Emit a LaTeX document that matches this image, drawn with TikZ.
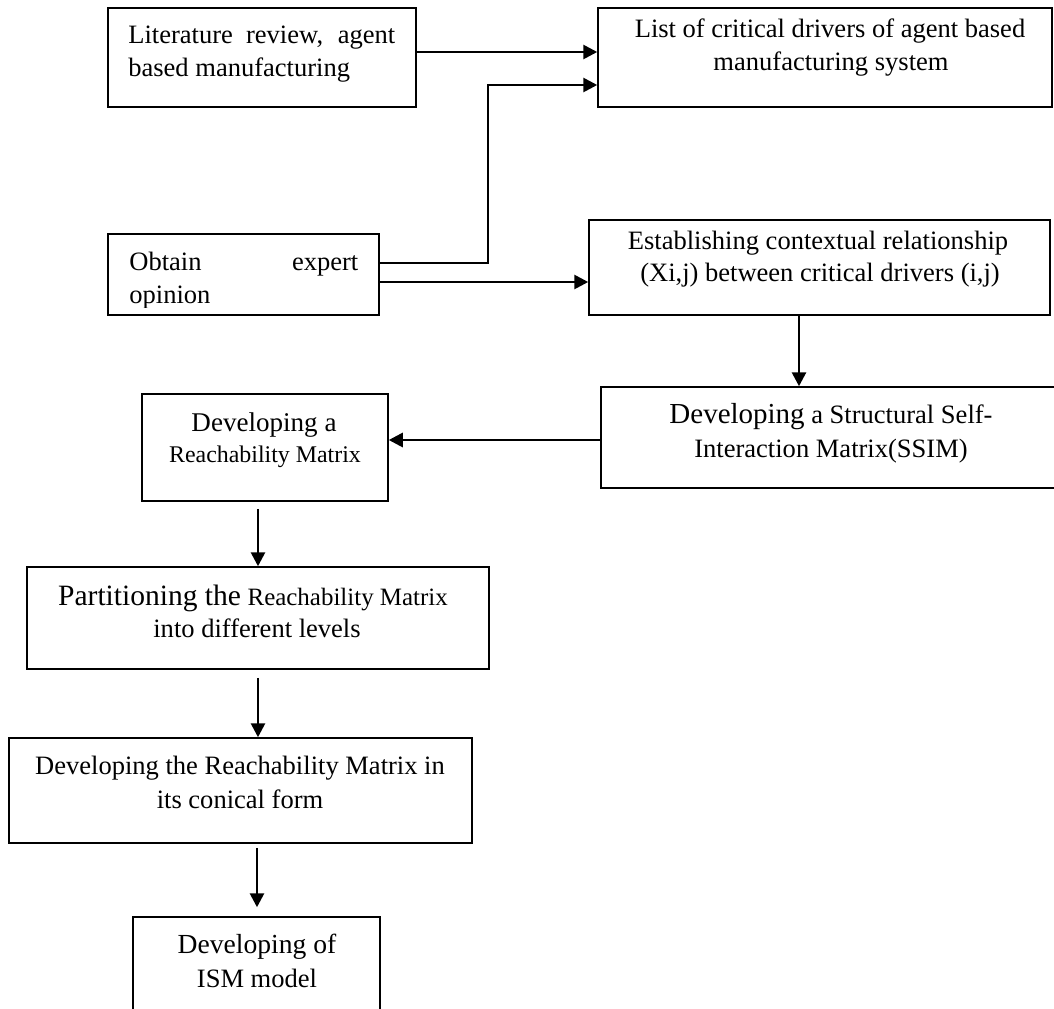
\documentclass[tikz,border=0pt]{standalone}
\usepackage{fontspec}
\setmainfont{Liberation Serif}
\usetikzlibrary{arrows.meta,fit}

\newcommand{\fs}[1]{\fontsize{#1}{#1}\selectfont}

\tikzset{
  box/.style={draw, line width=0.03cm, inner sep=0pt, fill=none},
  txt/.style={inner sep=0pt, anchor=base, font=\fs{15.1}},
  txtl/.style={inner sep=0pt, anchor=base west, font=\fs{15.1}},
  arr/.style={line width=0.055cm, -{Triangle[length=0.28cm, width=0.28cm]}},
  link/.style={line width=0.055cm}
}

\begin{document}
\begin{tikzpicture}[x=0.02cm, y=-0.02cm]
  \useasboundingbox (0,0) rectangle (1054,1008);
  \clip (0,0) rectangle (1054,1008);

  % boxes
  \node[box, fit={(108,8) (416,107)}] (lit) {};
  \node[box, fit={(598,8) (1052,107)}] (list) {};
  \node[box, fit={(108,234) (379,315)}] (expert) {};
  \node[box, fit={(589,220) (1050,315)}] (ctx) {};
  \node[box, fit={(601,387) (1070,488)}] (ssim) {};
  \node[box, fit={(142,394) (388,501)}] (reach) {};
  \node[box, fit={(27,567) (489,669)}] (part) {};
  \node[box, fit={(9,738) (472,843)}] (canon) {};
  \node[box, fit={(133,917) (380,1030)}] (ism) {};

  % texts
  \node[txtl] (litA) at (128,43) {\makebox[5.34cm][s]{Literature review, agent}};
  \node[txtl] (litB) at (128,76) {based manufacturing};

  \node[txt] (listA) at (830,37) {List of critical drivers of agent based};
  \node[txt] (listB) at (831,70) {manufacturing system};

  \begin{scope}
    \clip (100,225) rectangle (400,307);
    \node[txtl] (expA) at (129,270) {\makebox[4.58cm][s]{Obtain expert}};
    \node[txtl] (expB) at (129,303) {opinion};
  \end{scope}

  \node[txt] (ctxA) at (818,249) {Establishing contextual relationship};
  \node[txt] (ctxB) at (820,281) {(Xi,j) between critical drivers (i,j)};

  \node[txt] (ssimA) at (831,423) {{\fs{16.5}Developing} a Structural Self-};
  \node[txt] (ssimB) at (831,457) {Interaction Matrix(SSIM)};

  \node[txt, font=\fs{15.4}] (reachA) at (264,431) {Developing a};
  \node[txt, font=\fs{13.6}] (reachB) at (265,462) {Reachability Matrix};

  \node[txt] (partA) at (253,605) {{\fs{16.8}Partitioning the} {\fs{14.2}Reachability Matrix}};
  \node[txt] (partB) at (257,637) {into different levels};

  \node[txt] (canA) at (240,774) {Developing the Reachability Matrix in};
  \node[txt] (canB) at (240,808) {its conical form};

  \node[txt, font=\fs{15.7}] (ismA) at (257,953) {Developing of};
  \node[txt] (ismB) at (257,987) {ISM model};

  % connectors
  \draw[arr] (lit.east |- 0,52) -- (list.west |- 0,52);
  \coordinate (bendLow) at (488,263);
  \coordinate (bendHigh) at (488,85);
  \draw[arr] (expert.east |- bendLow) -- (bendLow) -- (bendHigh) -- (list.west |- bendHigh);
  \draw[arr] (expert.east |- 0,282) -- (ctx.west |- 0,282);
  \draw[arr] (ctx.south -| 799,0) -- (ssim.north -| 799,0);
  \draw[arr] (ssim.west |- 0,440) -- (reach.east |- 0,440);
  \draw[arr, shorten <=0.14cm] (reach.south -| 258,0) -- (part.north -| 258,0);
  \draw[arr, shorten <=0.16cm] (part.south -| 258,0) -- (canon.north -| 258,0);
  \draw[arr, shorten <=0.08cm, shorten >=0.18cm] (canon.south -| 257,0) -- (ism.north -| 257,0);
\end{tikzpicture}
\end{document}
